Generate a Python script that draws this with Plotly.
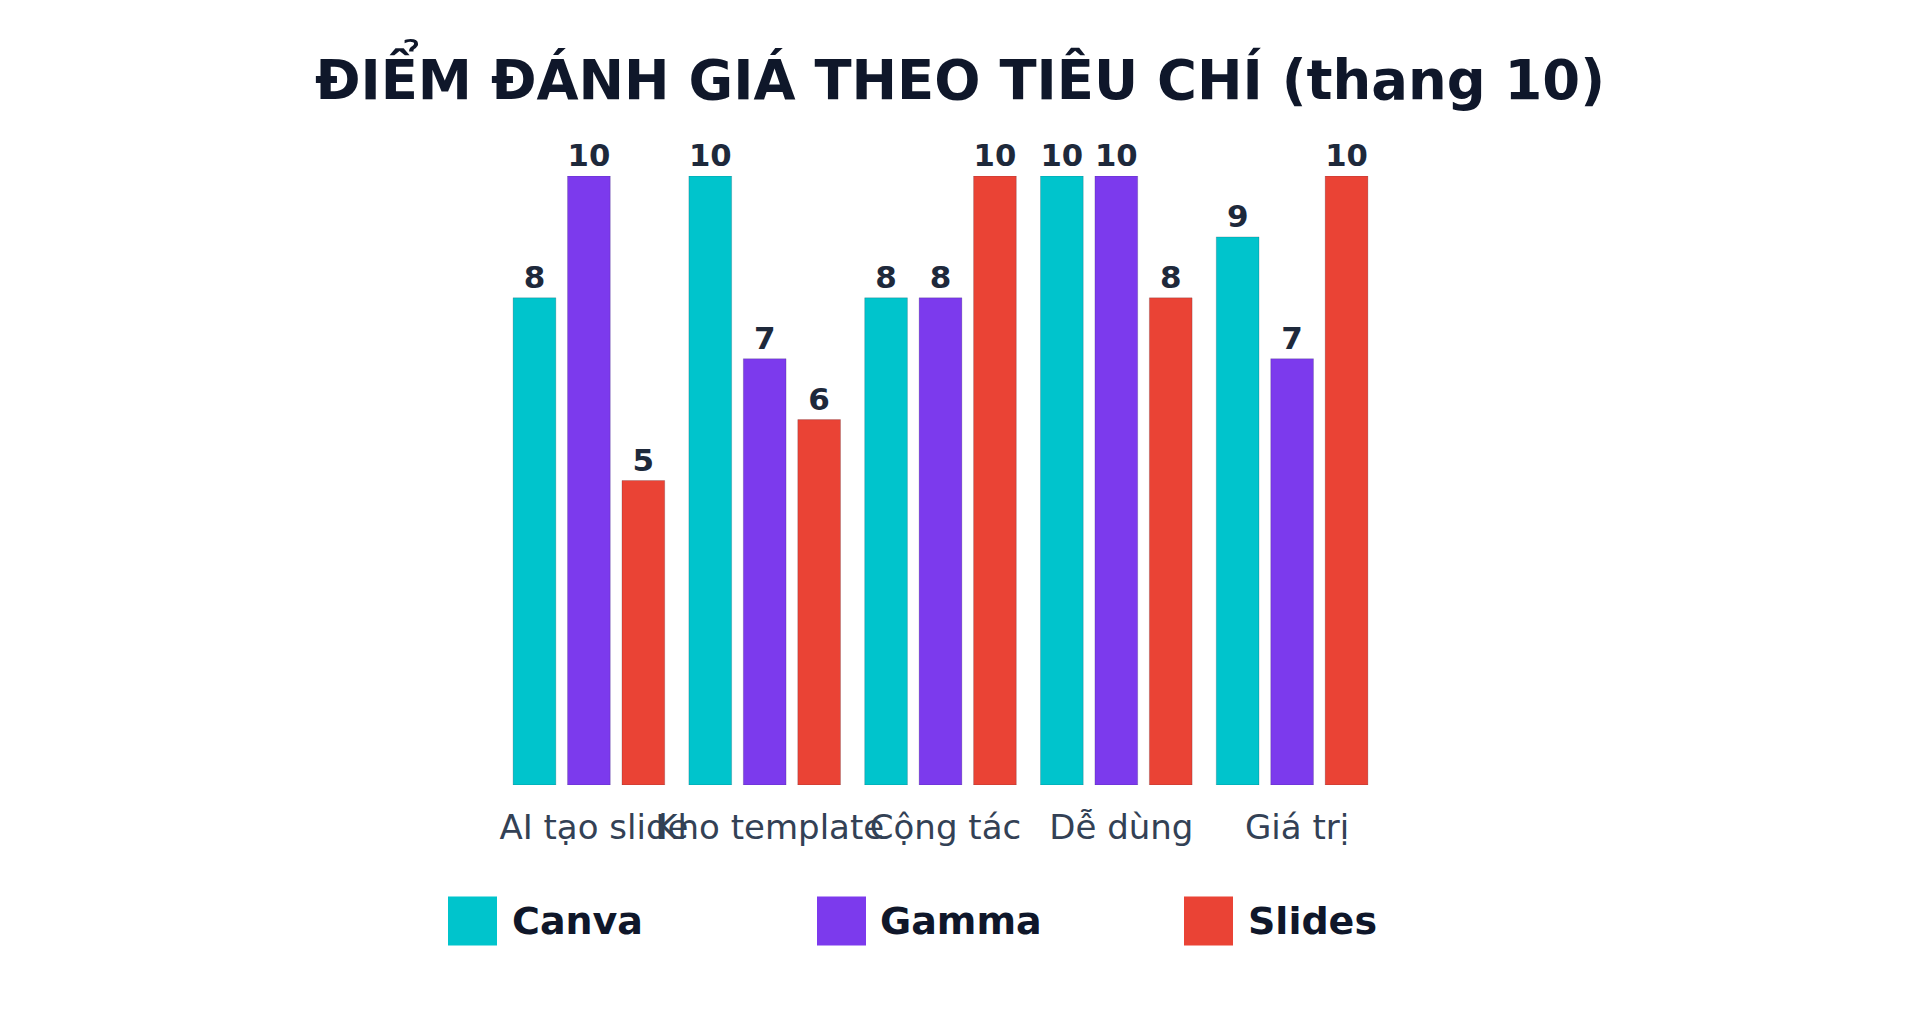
import plotly.graph_objects as go

categories = ["AI tạo slide", "Kho template", "Cộng tác", "Dễ dùng", "Giá trị"]
series_names = ["Canva", "Gamma", "Slides"]
canva = [8, 10, 8, 10, 9]
gamma = [10, 7, 8, 10, 7]
slides = [5, 6, 10, 8, 10]
colors = ["#00C4CC", "#7C3AED", "#EA4335"]
title_text = "ĐIỂM ĐÁNH GIÁ THEO TIÊU CHÍ (thang 10)"

FONT = "DejaVu Sans"
W, H = 1920, 1024
DX, DY = -7, -7
L, T = 500 + DX, 175 + DY
PW, PH = 879, 609
R, B = W - L - PW, H - T - PH

fig = go.Figure()
for name, vals, col in zip(series_names, [canva, gamma, slides], colors):
    fig.add_trace(go.Bar(
        x=categories, y=vals, name=name,
        marker=dict(color=col, line=dict(color="rgba(15,23,42,0.18)", width=1)),
        text=[str(v) for v in vals], textposition="outside",
        textfont=dict(family=FONT, size=31, color="#1e293b", weight="bold"),
        cliponaxis=False, showlegend=False,
    ))

# manual legend with large square swatches
legend_sq_x = [472.5, 841.5, 1208.5]
legend_txt_x = [509, 877, 1245]
legend_y = 920
for name, col, sx, tx in zip(series_names, colors, legend_sq_x, legend_txt_x):
    ay = (T + PH - (legend_y + DY)) / PH
    fig.add_shape(type="rect", xref="paper", yref="paper",
                  xsizemode="pixel", ysizemode="pixel",
                  xanchor=(sx + DX - 1 - L) / PW, yanchor=ay,
                  x0=-24.5, x1=24.5, y0=-24.5, y1=24.5,
                  fillcolor=col, line=dict(width=0))
    fig.add_annotation(xref="paper", yref="paper",
                       x=(tx + DX - L) / PW, y=ay,
                       xanchor="left", yanchor="middle", showarrow=False,
                       text=name,
                       font=dict(family=FONT, size=38, color="#0f172a", weight="bold"))

fig.update_layout(
    width=W, height=H,
    margin=dict(l=L, r=R, t=T, b=B, autoexpand=False),
    paper_bgcolor="#ffffff", plot_bgcolor="#ffffff",
    barmode="group", bargap=0.071, bargroupgap=0.215,
    title=dict(text=title_text, x=(960 + DX - 1) / W, xanchor="center",
               y=1 - (79 + DY) / H, yanchor="middle",
               font=dict(family=FONT, size=54.4, color="#0f172a", weight="bold")),
    xaxis=dict(tickangle=0, showline=False, showgrid=False, zeroline=False, ticks="",
               ticklabelstandoff=19, ticklabelshift=5,
               tickfont=dict(family=FONT, size=34, color="#334155")),
    yaxis=dict(range=[0, 10], visible=False, showgrid=False, zeroline=False),
    showlegend=False,
)

fig.write_html("out.html")
